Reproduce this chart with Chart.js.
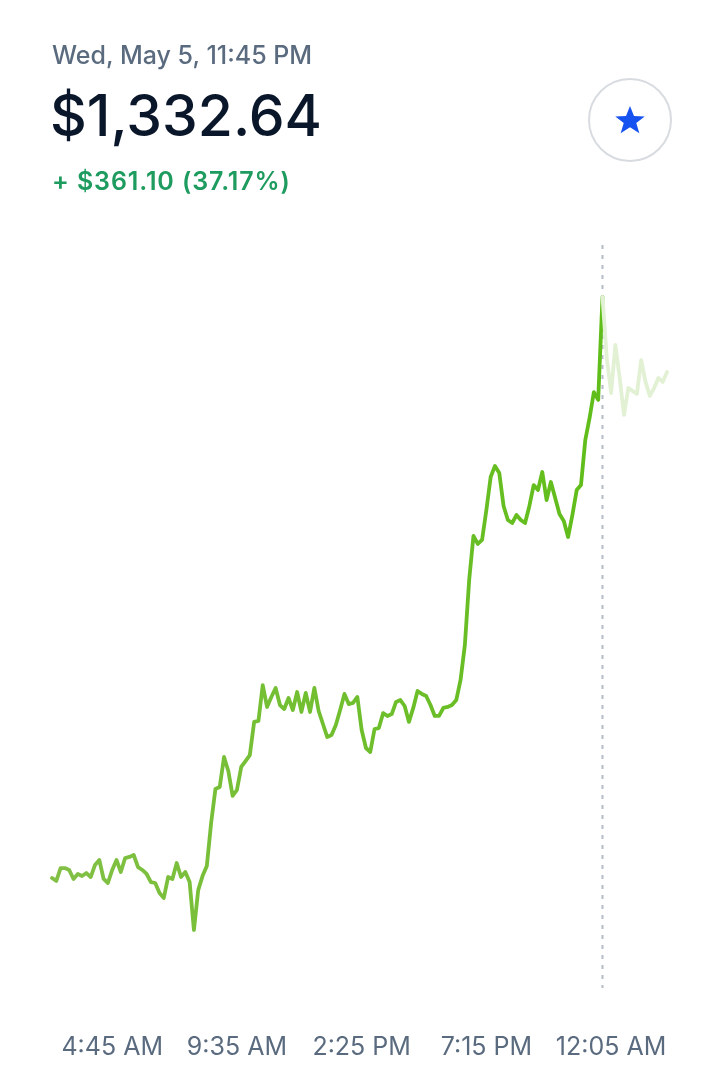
<!DOCTYPE html>
<html>
<head>
<meta charset="utf-8">
<script src="https://cdn.jsdelivr.net/npm/chart.js@4.4.0/dist/chart.umd.min.js"></script>
<style>
  body { margin: 0; background: #fff; font-family: Inter, "Noto Sans", sans-serif; }
  #wrap { position: relative; width: 720px; height: 1074px; overflow: hidden; }
  #priceChart { position: absolute; left: 0; top: 0; }
  .date { position: absolute; left: 52px; top: 40px; font-size: 25px; font-weight: 500; color: #5b6b7f; }
  .price { position: absolute; left: 50px; top: 81px; font-size: 57px; font-weight: 500; color: #0a1629; }
  .change { position: absolute; left: 52px; top: 166px; font-size: 25px; font-weight: 600; color: #1e9b5e; letter-spacing: 0.9px; }
  .star { position: absolute; left: 588px; top: 78px; width: 80px; height: 80px; border: 2px solid #d8dce0; border-radius: 50%; }
  .star svg { position: absolute; left: 24px; top: 24px; }
</style>
</head>
<body>
<div id="wrap">
  <canvas id="priceChart" width="720" height="1074"></canvas>
  <div class="date">Wed, May 5, 11:45 PM</div>
  <div class="price">$1,332.64</div>
  <div class="change">+ $361.10 (37.17%)</div>
  <div class="star">
    <svg width="32" height="32" viewBox="0 0 24 24"><polygon points="12,1.5 15,9 23,9.3 16.7,14.2 19,22 12,17.5 5,22 7.3,14.2 1,9.3 9,9" fill="#1652f0"/></svg>
  </div>
</div>
<script>
// 10 minute steps, starting 2:25 AM
const startMinutes = 2 * 60 + 25;
const stepMinutes = 10;

const prices = [
  971.5, 969.7, 977.7, 977.7, 976.5, 970.9, 974.0, 972.7, 974.6, 972.1,
  979.6, 982.7, 970.9, 968.4, 976.5, 982.7, 975.2, 983.9, 984.6, 985.8,
  978.3, 976.5, 974.0, 969.0, 968.4, 962.2, 959.1, 972.1, 970.9, 980.8,
  972.1, 975.2, 969.0, 939.2, 964.0, 972.7, 979.0, 1005.7, 1026.8, 1028.1,
  1046.7, 1038.0, 1022.5, 1026.2, 1040.5, 1044.2, 1047.9, 1068.5, 1069.1, 1091.4,
  1077.8, 1084.0, 1089.6, 1079.0, 1076.5, 1083.4, 1075.9, 1087.1, 1074.7, 1086.5,
  1074.7, 1089.6, 1075.3, 1067.2, 1059.1, 1060.4, 1066.6, 1075.9, 1085.9, 1079.6,
  1080.3, 1084.0, 1063.5, 1052.3, 1049.8, 1064.1, 1064.7, 1074.0, 1072.2, 1073.4,
  1080.9, 1082.1, 1078.4, 1068.5, 1077.2, 1087.7, 1085.9, 1084.6, 1079.0, 1072.2,
  1072.2, 1077.2, 1077.8, 1079.0, 1082.1, 1094.6, 1116.3, 1156.7, 1184.1, 1179.1,
  1181.6, 1200.2, 1220.7, 1227.6, 1223.2, 1202.7, 1194.0, 1192.1, 1197.1, 1194.0,
  1192.1, 1202.7, 1215.7, 1212.6, 1223.8, 1206.4, 1217.6, 1207.7, 1197.7, 1193.4,
  1183.4, 1197.1, 1212.6, 1215.7, 1243.7, 1257.4, 1273.5, 1268.6, 1332.64, 1294.7,
  1272.9, 1302.8, 1282.3, 1259.3, 1276.0, 1274.2, 1272.3, 1293.4, 1279.8, 1271.1,
  1276.0, 1282.3, 1279.8, 1286.0
];

const tickLabels = ["4:45 AM", "9:35 AM", "2:25 PM", "7:15 PM", "12:05 AM"];
const hoverLabel = "11:45 PM";

function formatTime(totalMinutes) {
  const m = totalMinutes % (24 * 60);
  const h24 = Math.floor(m / 60);
  const min = m % 60;
  const ampm = h24 < 12 ? "AM" : "PM";
  const h12 = h24 % 12 === 0 ? 12 : h24 % 12;
  return h12 + ":" + String(min).padStart(2, "0") + " " + ampm;
}

const labels = prices.map((p, i) => formatTime(startMinutes + i * stepMinutes));
const hoverIndex = labels.indexOf(hoverLabel);

const pastData = prices.map((p, i) => (i <= hoverIndex ? p : null));
const futureData = prices.map((p, i) => (i >= hoverIndex ? p : null));

// vertical dashed line at the hovered point
const hoverLine = {
  id: "hoverLine",
  beforeDatasetsDraw(chart) {
    const x = chart.scales.x.getPixelForValue(hoverIndex);
    const { ctx, chartArea } = chart;
    ctx.save();
    ctx.strokeStyle = "#b4bcc6";
    ctx.lineWidth = 2;
    ctx.setLineDash([4, 6]);
    ctx.beginPath();
    ctx.moveTo(x, chartArea.top + 5);
    ctx.lineTo(x, chartArea.bottom - 2);
    ctx.stroke();
    ctx.restore();
  }
};

const ctx = document.getElementById("priceChart");
new Chart(ctx, {
  type: "line",
  data: {
    labels: labels,
    datasets: [
      {
        data: futureData,
        borderColor: "#e2f1d4",
        borderWidth: 3.8,
        pointRadius: 0,
        tension: 0,
        borderJoinStyle: "round",
        borderCapStyle: "round",
      },
      {
        data: pastData,
        borderColor: (context) => {
          const { ctx, chartArea } = context.chart;
          if (!chartArea) return "#6cbf2a";
          const g = ctx.createLinearGradient(chartArea.left, 0, chartArea.right, 0);
          g.addColorStop(0, "#82c046");
          g.addColorStop(1, "#5cbd14");
          return g;
        },
        borderWidth: 3.8,
        pointRadius: 0,
        tension: 0,
        borderJoinStyle: "round",
        borderCapStyle: "round",
      },
    ],
  },
  options: {
    responsive: false,
    animation: false,
    layout: { padding: { left: 52, right: 53, top: 240, bottom: 0 } },
    plugins: { legend: { display: false }, tooltip: { enabled: false } },
    scales: {
      x: {
        offset: false,
        grid: { display: false, drawTicks: false },
        border: { display: false },
        afterFit(scale) {
          scale.height = 84;
        },
        ticks: {
          autoSkip: false,
          maxRotation: 0,
          padding: 42,
          color: "#5b6b7f",
          font: { family: "Inter", size: 25 },
          callback: function (val) {
            const lab = this.getLabelForValue(val);
            return tickLabels.includes(lab) ? lab : "";
          },
        },
      },
      y: {
        display: false,
        min: 901.9,
        max: 1368.0,
      },
    },
  },
  plugins: [hoverLine],
});
</script>
</body>
</html>
